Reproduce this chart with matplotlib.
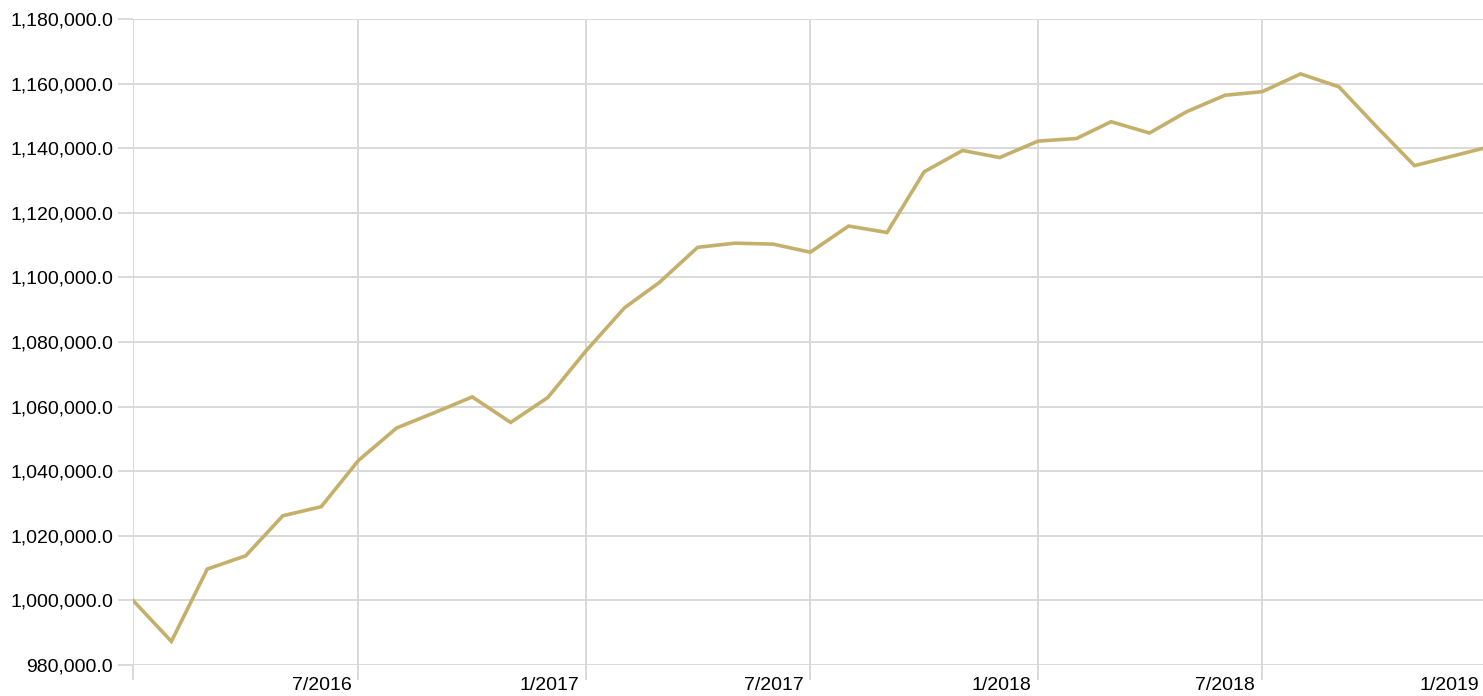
import numpy as np
import pandas as pd
import matplotlib
matplotlib.use('Agg')
import matplotlib.pyplot as plt
import matplotlib.ticker as mticker
import matplotlib.transforms as mtrans

# monthly series, Jan 2016 .. Jan 2019
months = pd.date_range('2016-01-01', '2019-01-01', freq='MS')
values = [1000000, 987300, 1009700, 1013800, 1026200, 1029000, 1043300,
          1053400, 1058200, 1063000, 1055100, 1062800, 1077300, 1090600,
          1098400, 1109300, 1110600, 1110300, 1107800, 1115900, 1113900,
          1132700, 1139300, 1137100, 1142200, 1143000, 1148200, 1144700,
          1151300, 1156400, 1157500, 1163000, 1159000, 1146800, 1134600,
          1137500, 1140500]
tick_dates = pd.to_datetime(['2016-01-01', '2016-07-01', '2017-01-01', '2017-07-01',
                             '2018-01-01', '2018-07-01', '2019-01-01'])
tick_labels = ['', '7/2016', '1/2017', '7/2017', '1/2018', '7/2018', '1/2019']
y_ticks = np.arange(980000, 1180001, 20000)

plt.rcParams['font.family'] = ['Liberation Sans', 'DejaVu Sans']

grid_c = '#d9d9d9'
line_c = '#c5b06b'

fig = plt.figure(figsize=(14.83, 6.96), dpi=100)
# plot area runs slightly past the right edge of the image
ax = fig.add_axes([133/1483, 1 - 665/696, (1490 - 133)/1483, (665 - 19)/696])

ax.plot(months, values, color=line_c, lw=2.6, solid_joinstyle='miter', zorder=3)

ax.set_xlim(pd.Timestamp('2016-01-01'), pd.Timestamp('2019-01-01'))
ax.set_ylim(980000, 1180000)

ax.set_xticks(tick_dates)
ax.set_xticklabels(tick_labels)
ax.set_yticks(y_ticks)
ax.yaxis.set_major_formatter(mticker.FuncFormatter(lambda v, p: f'{v:,.1f}'))

ax.grid(True, color=grid_c, lw=1.4, zorder=0)
for s in ax.spines.values():
    s.set_visible(False)

ax.tick_params(axis='both', colors=grid_c, width=1.4, length=10.8,
               labelcolor='black', labelsize=14)
ax.tick_params(axis='y', pad=3.6)
ax.tick_params(axis='x', pad=-2)

# x labels sit right-aligned against their gridline
labs = ax.get_xticklabels()
for i, lab in enumerate(labs):
    dx = -11 if i == len(labs) - 1 else -7
    lab.set_horizontalalignment('right')
    lab.set_transform(lab.get_transform() + mtrans.ScaledTranslation(dx/100, 0, fig.dpi_scale_trans))

fig.savefig('out.png', dpi=100)
